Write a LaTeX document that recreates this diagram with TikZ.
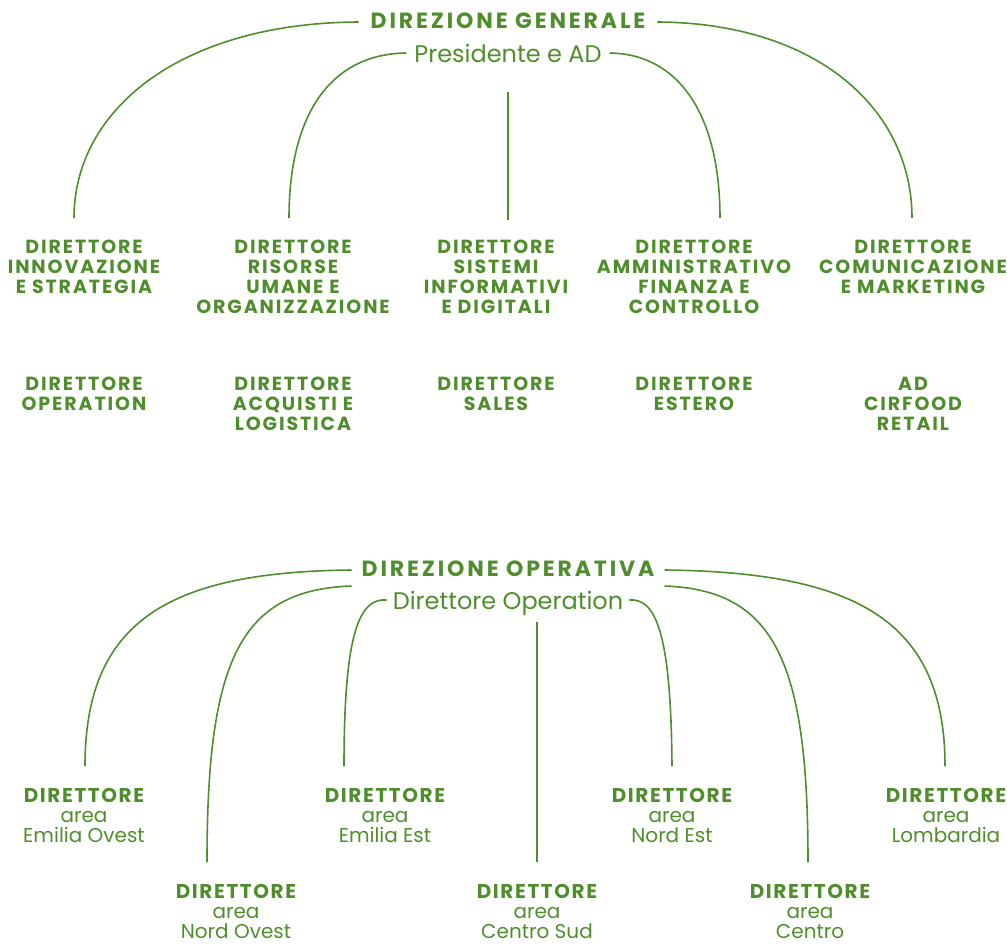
\documentclass[tikz,border=0pt]{standalone}
\usepackage{fontspec}
\setmainfont{Poppins}
\newfontfamily\spacedfont{Poppins}[LetterSpace=10]
\newfontfamily\headfont{Poppins}[LetterSpace=13]
\newfontfamily\areafont{Poppins}[LetterSpace=8]
\definecolor{cirgreen}{RGB}{80,142,45}

\begin{document}
\begin{tikzpicture}[x=1pt,y=-1pt,
  link/.style={draw=cirgreen,line width=1.6pt},
  head/.style={text=cirgreen,inner sep=0pt,font=\fontsize{22}{24}\selectfont\headfont\bfseries},
  sub/.style={text=cirgreen,inner sep=0pt,text depth=0pt,font=\fontsize{24}{26}\selectfont},
  role/.style={text=cirgreen,inner sep=0pt,align=center,anchor=north,font=\fontsize{19}{20}\selectfont\spacedfont\bfseries},
  area/.style={text=cirgreen,inner sep=0pt,align=center,anchor=north,font=\fontsize{20}{20}\selectfont}]
\useasboundingbox (0,0) rectangle (1007,945);

% Draw the nodes used for the picture
\node[head](dg) at (508,21){DIREZIONE GENERALE};
\node[sub](pad) at (508,53){Presidente e AD};
\node[role](innov) at (84,240){DIRETTORE\\INNOVAZIONE\\E STRATEGIA};
\node[role](risorse) at (293,240){DIRETTORE\\RISORSE\\UMANE E\\ORGANIZZAZIONE};
\node[role](sistemi) at (496,240){DIRETTORE\\SISTEMI\\INFORMATIVI\\E DIGITALI};
\node[role](ammin) at (694,240){DIRETTORE\\AMMINISTRATIVO\\FINANZA E\\CONTROLLO};
\node[role](comunic) at (913,240){DIRETTORE\\COMUNICAZIONE\\E MARKETING};
\node[role](operation) at (84,377){DIRETTORE\\OPERATION};
\node[role](acquisti) at (293,377){DIRETTORE\\ACQUISTI E\\LOGISTICA};
\node[role](sales) at (496,377){DIRETTORE\\SALES};
\node[role](estero) at (694,377){DIRETTORE\\ESTERO};
\node[role](retail) at (913,377){AD\\CIRFOOD\\RETAIL};

\node[head](dop) at (508,569){DIREZIONE OPERATIVA};
\node[sub](dirop) at (508,600){Direttore Operation};
\node[area](eovest) at (84,788){{\areafont\bfseries DIRETTORE}\\area\\Emilia Ovest};
\node[area](eest) at (385,788){{\areafont\bfseries DIRETTORE}\\area\\Emilia Est};
\node[area](nest) at (672,788){{\areafont\bfseries DIRETTORE}\\area\\Nord Est};
\node[area](lomb) at (946,788){{\areafont\bfseries DIRETTORE}\\area\\Lombardia};
\node[area](novest) at (236,884){{\areafont\bfseries DIRETTORE}\\area\\Nord Ovest};
\node[area](csud) at (537,884){{\areafont\bfseries DIRETTORE}\\area\\Centro Sud};
\node[area](centro) at (810,884){{\areafont\bfseries DIRETTORE}\\area\\Centro};

% Free ends of the connectors
\coordinate(innov-end) at (74,218);
\coordinate(risorse-end) at (289,218);
\coordinate(sistemi-end) at (508,220);
\coordinate(ammin-end) at (720,218);
\coordinate(comunic-end) at (912,218);
\coordinate(eovest-end) at (85,766);
\coordinate(novest-end) at (207,862);
\coordinate(eest-end) at (344,766);
\coordinate(csud-end) at (537,862);
\coordinate(nest-end) at (672,766);
\coordinate(centro-end) at (808,862);
\coordinate(lomb-end) at (945,766);

% Draw the edges between the nodes
\draw[link] ([xshift=-12pt,yshift=-1pt]dg.west) .. controls (180,23) and (74,110) .. (innov-end);
\draw[link] ([xshift=12pt,yshift=-1pt]dg.east) .. controls (818,23) and (912,110) .. (comunic-end);
\draw[link] ([xshift=-8pt]pad.west) .. controls (330,54) and (289,115) .. (risorse-end);
\draw[link] ([xshift=8pt]pad.east) .. controls (679,54) and (720,115) .. (ammin-end);
\draw[link] (508,92) -- (sistemi-end);

\draw[link] ([xshift=-10pt,yshift=-1pt]dop.west) .. controls (170,572) and (85,620) .. (eovest-end);
\draw[link] ([xshift=-10pt,yshift=-17pt]dop.west) .. controls (240,590) and (207,660) .. (novest-end);
\draw[link] ([xshift=-6pt]dirop.west) .. controls (360,598) and (344,630) .. (eest-end);
\draw[link] (537,622) -- (csud-end);
\draw[link] ([xshift=6pt]dirop.east) .. controls (655,598) and (671,630) .. (nest-end);
\draw[link] ([xshift=10pt,yshift=-17pt]dop.east) .. controls (774,590) and (808,660) .. (centro-end);
\draw[link] ([xshift=10pt,yshift=-1pt]dop.east) .. controls (855,572) and (945,620) .. (lomb-end);
\end{tikzpicture}
\end{document}
